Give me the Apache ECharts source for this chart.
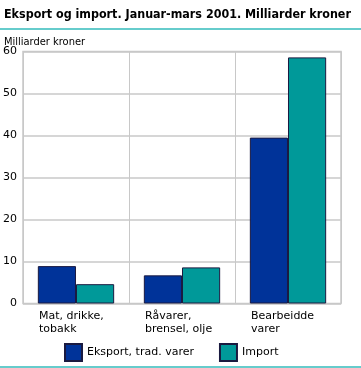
<!DOCTYPE html>
<html><head><meta charset="utf-8">
<script src="https://cdn.jsdelivr.net/npm/echarts@6/dist/echarts.min.js"></script>
<style>html,body{margin:0;padding:0;background:#fff}#c{width:361px;height:368px}</style>
</head><body><div id="c"></div>
<script>
const categories = ['Mat, drikke,\ntobakk', 'Råvarer,\nbrensel, olje', 'Bearbeidde\nvarer'];
const eksport = [8.9, 6.7, 39.5];
const importVals = [4.6, 8.6, 58.6];
const seriesNames = ['Eksport, trad. varer', 'Import'];
const yTicks = [0, 10, 20, 30, 40, 50, 60];

const font = '"DejaVu Sans", sans-serif';
const chart = echarts.init(document.getElementById('c'));
chart.setOption({
  animation: false,
  textStyle: { fontFamily: font },
  title: [{
    text: 'Eksport og import. Januar-mars 2001. Milliarder kroner',
    left: -1, top: 4,
    textStyle: { fontSize: 12.4, fontWeight: 'bold', color: '#000', fontFamily: '"DejaVu Sans Condensed", "Liberation Sans Narrow", sans-serif' }
  }, {
    text: 'Milliarder kroner',
    left: -1, top: 32,
    textStyle: { fontSize: 11, fontWeight: 'normal', color: '#000', fontFamily: '"DejaVu Sans Condensed", sans-serif' }
  }],
  graphic: [
    { type: 'rect', shape: { x: 0, y: 28, width: 361, height: 2 }, style: { fill: '#66cccc' } },
    { type: 'rect', shape: { x: 0, y: 366, width: 361, height: 2 }, style: { fill: '#66cccc' } }
  ],
  grid: { left: 21, right: 20, top: 51.5, bottom: 64.5, show: true, borderColor: '#c8c8c8', borderWidth: 1.5 },
  legend: {
    left: 59, top: 338, itemWidth: 17, itemHeight: 17, itemGap: 25, itemTextGap: 8,
    icon: 'rect',
    textStyle: { fontSize: 11, color: '#000', fontFamily: font },
    data: seriesNames
  },
  xAxis: {
    type: 'category', data: categories,
    axisLine: { show: false }, axisTick: { show: false },
    splitLine: { show: true, lineStyle: { color: '#c8c8c8', width: 1 } },
    axisLabel: {
      interval: 0, margin: 6,
      formatter: v => '{a|' + v.split('\n').join('}\n{a|') + '}',
      rich: { a: { width: 74, align: 'left', fontSize: 11, lineHeight: 13, color: '#000', fontFamily: font } }
    }
  },
  yAxis: {
    type: 'value', min: 0, max: 60, interval: 10,
    axisLine: { show: false }, axisTick: { show: false },
    splitLine: { lineStyle: { color: '#c8c8c8', width: 1.5 } },
    axisLabel: { fontSize: 11, color: '#000', margin: 6, fontFamily: font,
      formatter: v => yTicks.includes(v) ? String(v) : '' }
  },
  series: [
    { name: seriesNames[0], type: 'bar', data: eksport, barGap: '0%', barCategoryGap: '28%',
      itemStyle: { color: '#003399', borderColor: '#1a1a40', borderWidth: 1 } },
    { name: seriesNames[1], type: 'bar', data: importVals,
      itemStyle: { color: '#009999', borderColor: '#1a1a40', borderWidth: 1 } }
  ]
});
</script></body></html>
